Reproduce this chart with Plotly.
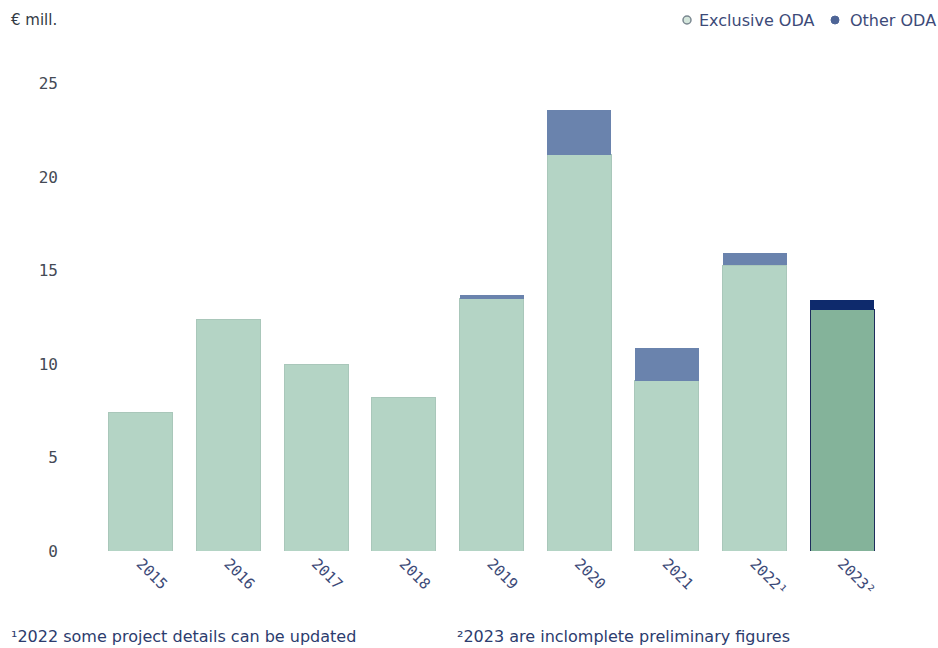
import plotly.graph_objects as go

years = ["2015", "2016", "2017", "2018", "2019", "2020", "2021", "2022¹", "2023²"]
exclusive_oda = [7.4, 12.4, 10.0, 8.2, 13.5, 21.2, 9.1, 15.3, 12.9]
other_oda = [0.0, 0.0, 0.0, 0.0, 0.18, 2.4, 1.75, 0.62, 0.55]
y_ticks = [0, 5, 10, 15, 20, 25]

excl_colors = ["#b4d4c5"] * 8 + ["#84b39a"]
excl_lines = ["#a9c7ba"] * 8 + ["#1e2d5c"]
other_colors = ["#6a83ad"] * 8 + ["#0e2a6c"]

fig = go.Figure()
fig.add_trace(go.Bar(x=years, y=exclusive_oda, name="Exclusive ODA", showlegend=False,
                     marker=dict(color=excl_colors, line=dict(color=excl_lines, width=1))))
fig.add_trace(go.Bar(x=years, y=other_oda, name="Other ODA", showlegend=False,
                     marker=dict(color=other_colors, line=dict(width=0))))

L, T, PW, PH = 97, 65, 789, 486


def px_x(x):
    return (x - L) / PW


def px_y(y):
    return 1 + (T - y) / PH


legend_y = px_y(20)
TXT = "DejaVu Sans"

shapes = [
    dict(type="circle", xref="paper", yref="paper", xsizemode="pixel", ysizemode="pixel",
         xanchor=px_x(687), yanchor=legend_y, x0=-4, x1=4, y0=-4, y1=4,
         fillcolor="#d4e6dc", line=dict(color="#7a8790", width=1.5)),
    dict(type="circle", xref="paper", yref="paper", xsizemode="pixel", ysizemode="pixel",
         xanchor=px_x(835), yanchor=legend_y, x0=-4, x1=4, y0=-4, y1=4,
         fillcolor="#4d6496", line=dict(color="#4d6496", width=1)),
]

fig.update_layout(
    width=938, height=648,
    barmode="stack", bargap=0.27,
    plot_bgcolor="white", paper_bgcolor="white",
    margin=dict(l=L, r=938 - L - PW, t=T, b=648 - T - PH),
    font=dict(family=TXT, color="#3c4a78"),
    showlegend=False,
    xaxis=dict(tickangle=45, showgrid=False, showline=False, ticks="",
               tickfont=dict(family="DejaVu Sans Mono", size=15, color="#3c4a78")),
    yaxis=dict(range=[0, 26], tickvals=y_ticks, showgrid=False, zeroline=False,
               showline=False, ticks="", ticklabelstandoff=38,
               tickfont=dict(family="DejaVu Sans Mono", size=16, color="#444a55")),
    shapes=shapes,
    annotations=[
        dict(text="Exclusive ODA", xref="paper", yref="paper", x=px_x(697), y=legend_y,
             xanchor="left", yanchor="middle", showarrow=False,
             font=dict(family=TXT, size=16, color="#3c4a78")),
        dict(text="Other ODA", xref="paper", yref="paper", x=px_x(848), y=legend_y,
             xanchor="left", yanchor="middle", showarrow=False,
             font=dict(family=TXT, size=16, color="#3c4a78")),
        dict(text="€ mill.", xref="paper", yref="paper", x=px_x(9), y=legend_y,
             xanchor="left", yanchor="middle", showarrow=False,
             font=dict(family=TXT, size=15, color="#333a44")),
        dict(text="¹2022 some project details can be updated", xref="paper", yref="paper",
             x=px_x(9), y=px_y(636), xanchor="left", yanchor="middle", showarrow=False,
             font=dict(family=TXT, size=16, color="#2c3c6e")),
        dict(text="²2023 are inclomplete preliminary figures", xref="paper", yref="paper",
             x=px_x(455), y=px_y(636), xanchor="left", yanchor="middle", showarrow=False,
             font=dict(family=TXT, size=16, color="#2c3c6e")),
    ],
)

fig.write_html("out.html")
